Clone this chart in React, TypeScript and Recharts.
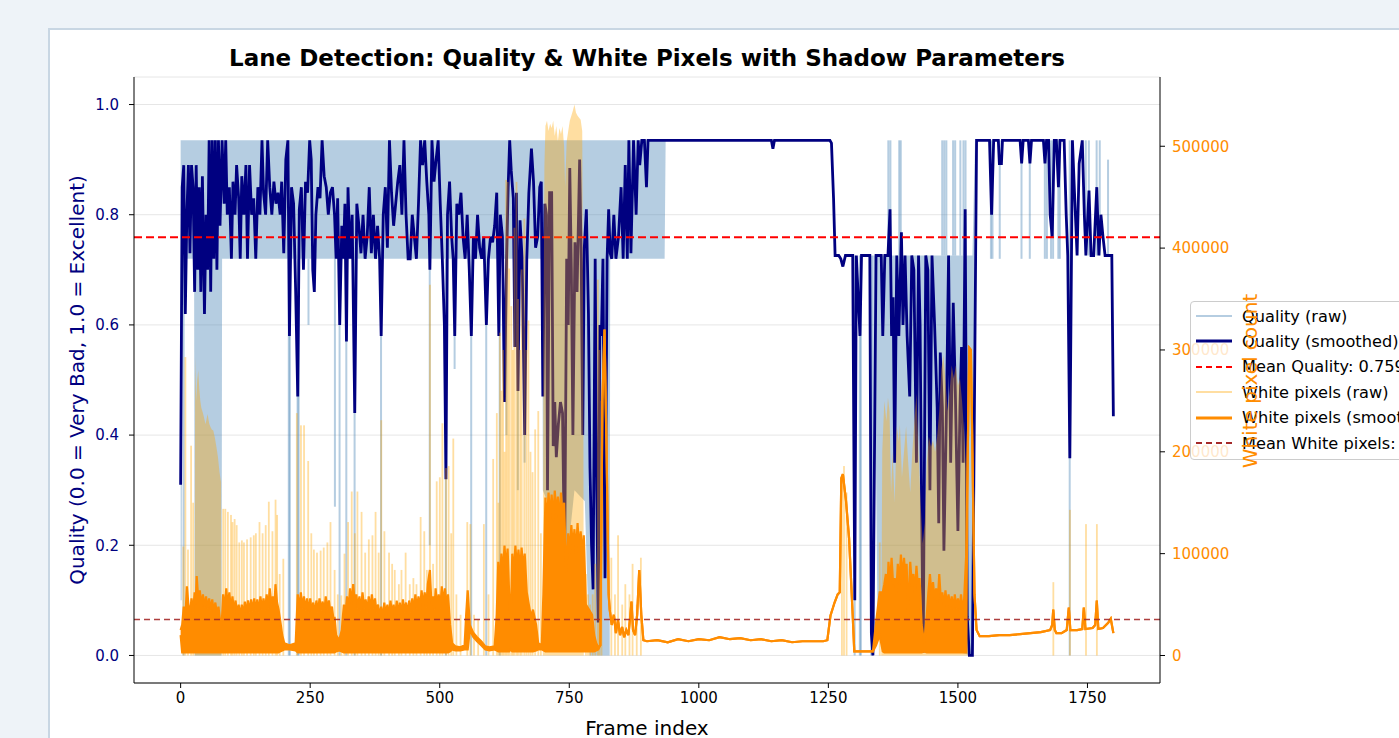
import { ComposedChart, Line, Area, Bar, XAxis, YAxis, CartesianGrid, ReferenceLine } from 'recharts'

// frame index -> smoothed quality score
const qualitySmooth: [number, number][] = [
  [0, 0.31], [3, 0.85], [6, 0.89], [9, 0.62], [12, 0.8], [15, 0.89], [18, 0.73], [21, 0.89], [24, 0.85], [27, 0.66],
  [30, 0.89], [33, 0.7], [36, 0.85], [39, 0.66], [42, 0.87], [46, 0.62], [49, 0.8], [52, 0.7], [55, 0.935], [58, 0.66],
  [61, 0.935], [64, 0.72], [67, 0.935], [70, 0.7], [73, 0.935], [76, 0.78], [80, 0.935], [84, 0.82], [87, 0.935], [90, 0.8],
  [94, 0.85], [98, 0.72], [101, 0.86], [105, 0.8], [108, 0.89], [112, 0.83], [115, 0.72], [118, 0.87], [122, 0.8], [126, 0.89],
  [129, 0.72], [133, 0.89], [137, 0.8], [141, 0.83], [145, 0.72], [149, 0.85], [153, 0.8], [157, 0.935], [160, 0.84], [164, 0.8],
  [168, 0.935], [172, 0.85], [176, 0.8], [180, 0.86], [184, 0.82], [188, 0.84], [192, 0.8], [195, 0.86], [199, 0.73], [203, 0.9],
  [207, 0.935], [210, 0.58], [214, 0.85], [218, 0.82], [222, 0.66], [226, 0.47], [229, 0.81], [233, 0.85], [237, 0.7], [241, 0.86],
  [245, 0.84], [249, 0.935], [252, 0.9], [255, 0.7], [258, 0.66], [261, 0.8], [265, 0.85], [269, 0.83], [273, 0.935], [277, 0.87],
  [281, 0.85], [285, 0.8], [289, 0.84], [293, 0.85], [297, 0.8], [300, 0.72], [303, 0.83], [307, 0.6], [311, 0.78], [314, 0.72],
  [317, 0.82], [320, 0.57], [323, 0.85], [327, 0.72], [331, 0.8], [336, 0.44], [340, 0.82], [344, 0.78], [348, 0.73], [352, 0.8],
  [356, 0.72], [360, 0.76], [364, 0.85], [368, 0.73], [372, 0.8], [376, 0.72], [380, 0.78], [384, 0.72], [387, 0.58], [391, 0.8],
  [395, 0.85], [399, 0.74], [403, 0.935], [407, 0.84], [411, 0.78], [415, 0.82], [419, 0.86], [423, 0.89], [427, 0.8], [431, 0.935],
  [435, 0.8], [439, 0.72], [443, 0.72], [447, 0.8], [451, 0.76], [455, 0.72], [459, 0.82], [463, 0.935], [467, 0.89], [471, 0.935],
  [475, 0.86], [479, 0.8], [481, 0.7], [485, 0.935], [489, 0.86], [493, 0.9], [497, 0.935], [501, 0.82], [505, 0.72], [509, 0.6],
  [512, 0.32], [515, 0.8], [519, 0.86], [523, 0.76], [526, 0.72], [529, 0.58], [533, 0.82], [537, 0.8], [541, 0.84], [545, 0.76],
  [549, 0.72], [553, 0.8], [557, 0.7], [561, 0.58], [565, 0.76], [569, 0.72], [573, 0.8], [577, 0.74], [581, 0.72], [585, 0.76],
  [590, 0.6], [594, 0.72], [598, 0.76], [602, 0.75], [606, 0.78], [610, 0.84], [614, 0.58], [617, 0.8], [621, 0.76], [625, 0.46],
  [629, 0.72], [632, 0.85], [635, 0.935], [638, 0.88], [642, 0.83], [645, 0.56], [648, 0.84], [651, 0.48], [655, 0.79], [659, 0.72],
  [664, 0.4], [668, 0.72], [672, 0.84], [677, 0.92], [681, 0.86], [685, 0.74], [689, 0.76], [693, 0.85], [696, 0.86], [699, 0.47],
  [703, 0.82], [706, 0.8], [708, 0.3], [712, 0.84], [716, 0.84], [719, 0.38], [722, 0.46], [725, 0.36], [729, 0.42], [733, 0.46],
  [737, 0.44], [741, 0.16], [745, 0.72], [748, 0.6], [751, 0.885], [754, 0.7], [757, 0.4], [761, 0.75], [765, 0.66], [770, 0.9],
  [773, 0.72], [776, 0.4], [779, 0.74], [783, 0.81], [787, 0.62], [790, 0.34], [793, 0.2], [796, 0.12], [800, 0.72], [803, 0.3],
  [806, 0.06], [809, 0.6], [812, 0.58], [815, 0.72], [819, 0.14], [823, 0.72], [826, 0.81], [829, 0.73], [832, 0.72], [836, 0.8],
  [840, 0.72], [845, 0.76], [850, 0.85], [854, 0.72], [858, 0.89], [862, 0.72], [865, 0.935], [869, 0.73], [874, 0.935], [879, 0.8],
  [883, 0.935], [886, 0.89], [890, 0.935], [895, 0.935], [899, 0.85], [902, 0.935], [1140, 0.935], [1143, 0.92], [1146, 0.935], [1253, 0.935],
  [1256, 0.93], [1260, 0.83], [1263, 0.726], [1270, 0.726], [1274, 0.72], [1278, 0.706], [1283, 0.726], [1297, 0.726], [1301, 0.1], [1304, 0.726],
  [1311, 0.58], [1314, 0.726], [1330, 0.726], [1333, 0.04], [1336, 0.0], [1342, 0.726], [1352, 0.726], [1355, 0.58], [1359, 0.726], [1365, 0.726],
  [1369, 0.81], [1372, 0.58], [1375, 0.65], [1378, 0.35], [1382, 0.726], [1386, 0.58], [1391, 0.768], [1394, 0.6], [1398, 0.726], [1402, 0.58],
  [1407, 0.47], [1411, 0.726], [1415, 0.7], [1420, 0.35], [1424, 0.726], [1427, 0.6], [1430, 0.27], [1433, 0.005], [1438, 0.726], [1442, 0.7],
  [1446, 0.3], [1450, 0.726], [1455, 0.6], [1460, 0.45], [1463, 0.24], [1466, 0.55], [1470, 0.45], [1473, 0.19], [1478, 0.45], [1482, 0.726],
  [1486, 0.35], [1491, 0.64], [1495, 0.48], [1500, 0.226], [1504, 0.45], [1507, 0.56], [1510, 0.35], [1514, 0.81], [1518, 0.07], [1522, 0.0],
  [1528, 0.0], [1536, 0.935], [1561, 0.935], [1565, 0.8], [1569, 0.935], [1578, 0.935], [1580, 0.893], [1584, 0.893], [1586, 0.935], [1620, 0.935],
  [1623, 0.893], [1626, 0.935], [1636, 0.935], [1639, 0.893], [1642, 0.935], [1665, 0.935], [1668, 0.893], [1671, 0.935], [1675, 0.935], [1678, 0.8],
  [1682, 0.76], [1686, 0.935], [1690, 0.935], [1694, 0.85], [1697, 0.935], [1705, 0.935], [1709, 0.8], [1712, 0.726], [1716, 0.358], [1721, 0.935],
  [1725, 0.84], [1730, 0.726], [1734, 0.893], [1740, 0.935], [1744, 0.8], [1747, 0.726], [1753, 0.844], [1757, 0.726], [1762, 0.726], [1768, 0.85],
  [1772, 0.726], [1776, 0.8], [1780, 0.76], [1784, 0.726], [1797, 0.726], [1800, 0.434],
]

// raw quality: envelope of the per-frame values [frame, low, high]
const qualityRawBand: [number, number, number][] = [
  [0, 0.1, 0.935], [2, 0.1, 0.935], [3, 0.72, 0.935], [26, 0.72, 0.935], [27, 0.0, 0.935], [79, 0.0, 0.935], [80, 0.72, 0.935],
  [698, 0.72, 0.935], [699, 0.3, 0.935], [720, 0.25, 0.935], [740, 0.12, 0.935], [760, 0.3, 0.935], [780, 0.28, 0.935],
  [789, 0.0, 0.935], [828, 0.0, 0.935], [829, 0.72, 0.935], [934, 0.72, 0.935], [936, 0.935, 0.935], [1253, 0.935, 0.935],
  [1262, 0.726, 0.726], [1338, 0.726, 0.726], [1345, 0.05, 0.726], [1525, 0.0, 0.726], [1528, 0.0, 0.726], [1533, 0.935, 0.935],
  [1800, 0.935, 0.935],
]

// single-frame raw quality jumps [frame, from, to]
const qualityRawSpikes: [number, number, number][] = [
  [6, 0.0, 0.72], [209, 0.0, 0.72], [211, 0.0, 0.72], [226, 0.0, 0.72], [228, 0.0, 0.72], [247, 0.6, 0.72], [298, 0.27, 0.72],
  [307, 0.0, 0.72], [320, 0.0, 0.72], [336, 0.0, 0.72], [387, 0.0, 0.72], [481, 0.2, 0.72], [512, 0.0, 0.72], [529, 0.52, 0.72],
  [561, 0.0, 0.72], [590, 0.0, 0.72], [616, 0.0, 0.72], [629, 0.4, 0.72], [651, 0.3, 0.72], [664, 0.35, 0.72],
  [1301, 0.0, 0.726], [1311, 0.0, 0.726], [1313, 0.0, 0.726], [1333, 0.0, 0.726], [1336, 0.0, 0.726],
  [1366, 0.726, 0.935], [1370, 0.726, 0.935], [1387, 0.726, 0.935], [1390, 0.726, 0.935], [1470, 0.726, 0.935], [1474, 0.726, 0.935],
  [1478, 0.726, 0.935], [1491, 0.726, 0.935], [1495, 0.726, 0.935], [1505, 0.726, 0.935], [1511, 0.726, 0.935], [1515, 0.726, 0.935],
  [1564, 0.72, 0.935], [1567, 0.72, 0.935], [1581, 0.72, 0.935], [1623, 0.72, 0.935], [1639, 0.72, 0.935], [1668, 0.72, 0.935],
  [1672, 0.72, 0.935], [1680, 0.72, 0.935], [1684, 0.72, 0.935], [1694, 0.72, 0.935], [1697, 0.72, 0.935], [1716, 0.0, 0.935],
  [1747, 0.726, 0.935], [1753, 0.726, 0.935], [1768, 0.726, 0.935], [1774, 0.726, 0.935], [1790, 0.726, 0.9],
]

// raw white pixels (thousands): dense stretches as envelope [frame, low, high]
const whiteRawBandK: [number, number, number][] = [
  [27, 0, 0], [28, 0, 293], [30, 0, 250], [32, 0, 270], [34, 0, 280], [36, 0, 262], [38, 0, 250], [40, 0, 243], [43, 0, 238],
  [45, 0, 234], [48, 0, 227], [50, 0, 232], [52, 0, 237], [55, 0, 228], [57, 0, 225], [60, 0, 222], [63, 0, 221], [66, 0, 214],
  [69, 0, 205], [72, 0, 195], [75, 0, 180], [78, 0, 170], [79, 0, 0],
  [699, 0, 0], [700, 0, 300], [702, 0, 480], [704, 0, 520], [707, 0, 525], [710, 0, 515], [713, 0, 522], [716, 0, 518],
  [719, 0, 525], [722, 0, 510], [725, 0, 520], [728, 0, 505], [731, 0, 518], [734, 0, 512], [737, 0, 520], [740, 0, 500],
  [742, 0, 460], [745, 0, 505], [748, 0, 515], [751, 0, 525], [754, 0, 530], [757, 0, 535], [760, 0, 541], [763, 0, 533],
  [766, 0, 530], [769, 0, 528], [772, 0, 526], [775, 0, 515], [777, 0, 300], [778, 0, 0],
  [1352, 0, 0], [1354, 0, 200], [1358, 0, 250], [1362, 0, 230], [1365, 0, 253], [1368, 0, 240], [1371, 0, 160], [1374, 0, 200],
  [1378, 0, 150], [1382, 0, 225], [1386, 0, 210], [1388, 0, 227], [1392, 0, 175], [1396, 0, 200], [1400, 0, 225], [1404, 0, 190],
  [1408, 0, 160], [1412, 0, 200], [1416, 0, 230], [1420, 0, 257], [1424, 0, 200], [1428, 0, 150], [1432, 0, 110], [1436, 0, 130],
  [1440, 0, 190], [1444, 0, 215], [1448, 0, 205], [1452, 0, 211], [1456, 0, 200], [1460, 0, 215], [1464, 0, 240], [1468, 0, 281],
  [1472, 0, 295], [1476, 0, 270], [1480, 0, 240], [1484, 0, 260], [1488, 0, 285], [1492, 0, 272], [1496, 0, 285], [1500, 0, 265],
  [1504, 0, 272], [1508, 0, 250], [1512, 0, 220], [1516, 0, 180], [1519, 0, 0],
]

// raw white pixels (thousands): isolated single-frame peaks
const whiteRawSpikesK: [number, number][] = [
  [5, 107], [9, 293], [14, 104], [20, 206], [24, 150], [82, 144], [86, 144], [91, 141], [97, 138], [100, 131], [104, 134],
  [108, 128], [113, 111], [118, 113], [122, 111], [128, 114], [135, 116], [141, 118], [145, 120], [152, 131], [158, 120],
  [164, 128], [170, 151], [177, 122], [183, 153], [186, 138], [191, 80], [198, 95],
  [224, 238], [232, 226], [238, 226], [246, 191], [252, 120], [257, 104], [263, 101], [270, 103], [276, 106], [283, 111],
  [289, 131], [297, 84], [303, 60], [310, 59], [316, 100], [323, 131], [330, 161], [336, 120], [341, 161], [349, 141],
  [356, 101], [363, 114], [370, 118], [376, 141], [382, 101], [387, 231], [393, 122],
  [402, 101], [408, 90], [413, 84], [421, 70], [426, 84], [434, 101], [442, 70], [449, 76], [455, 70], [463, 136], [470, 122],
  [475, 84], [481, 364], [487, 90], [494, 171], [500, 175], [505, 228], [512, 184], [517, 186], [522, 120], [526, 213],
  [532, 60], [540, 40], [553, 131], [559, 129],
  [566, 40], [574, 35], [585, 129], [594, 60], [603, 193], [610, 238], [613, 150], [616, 317], [619, 260], [622, 300],
  [625, 200], [628, 467], [631, 465], [634, 380], [638, 343], [641, 300], [644, 420], [648, 465], [651, 350], [655, 300],
  [658, 379], [663, 429], [667, 300], [671, 329], [675, 200], [679, 180], [684, 222], [690, 240], [695, 120],
  [782, 80], [786, 60], [790, 50], [795, 60], [800, 90], [805, 369], [808, 300], [812, 250], [831, 96], [838, 60], [844, 118],
  [852, 50], [858, 70], [866, 60], [872, 90], [880, 50], [888, 96], [1276, 176], [1280, 186], [1285, 160], [1349, 111],
  [1684, 72], [1716, 143], [1747, 129], [1768, 129],
]

// smoothed white pixels (thousands): [frame, low, high] of the drawn trace
const whiteSmoothK: [number, number, number][] = [
  [0, 20, 25], [3, 3, 30], [6, 3, 48], [9, 3, 35], [12, 3, 68], [15, 3, 50], [18, 3, 40], [21, 3, 56], [24, 3, 42], [27, 3, 62],
  [29, 3, 50], [31, 3, 78], [34, 3, 55], [37, 3, 64], [40, 3, 48], [43, 3, 60], [46, 3, 47], [49, 3, 58], [52, 3, 46], [55, 3, 56],
  [58, 3, 44], [61, 3, 55], [64, 3, 42], [67, 3, 52], [70, 3, 40], [73, 3, 48], [76, 3, 34], [79, 3, 28], [82, 3, 60], [85, 3, 44],
  [88, 3, 66], [91, 3, 48], [94, 3, 62], [97, 3, 45], [100, 3, 58], [103, 3, 42], [106, 3, 54], [109, 3, 40], [112, 3, 50], [115, 3, 38],
  [118, 3, 50], [121, 3, 40], [124, 3, 53], [127, 3, 41], [130, 3, 54], [133, 3, 42], [136, 3, 55], [139, 3, 43], [142, 3, 56], [145, 3, 44],
  [148, 3, 55], [151, 3, 42], [154, 3, 58], [157, 3, 45], [160, 3, 56], [163, 3, 44], [166, 3, 60], [169, 3, 46], [172, 3, 66], [175, 3, 50],
  [178, 3, 58], [181, 3, 48], [183, 3, 70], [186, 3, 52], [189, 3, 45], [192, 4, 35], [196, 5, 20], [200, 6, 12], [210, 6, 10], [222, 5, 12],
  [226, 3, 60], [229, 3, 45], [232, 3, 62], [235, 3, 46], [238, 3, 58], [241, 3, 44], [244, 3, 56], [247, 3, 42], [250, 3, 56], [253, 3, 43],
  [256, 3, 52], [259, 3, 40], [262, 3, 54], [265, 3, 42], [268, 3, 56], [271, 3, 44], [274, 3, 53], [277, 3, 41], [280, 3, 58], [283, 3, 45],
  [286, 3, 54], [289, 3, 42], [292, 3, 48], [295, 3, 35], [297, 3, 38], [300, 4, 20], [306, 5, 15], [311, 4, 25], [315, 3, 50], [318, 3, 40],
  [321, 3, 58], [324, 3, 45], [327, 3, 66], [330, 3, 50], [333, 3, 70], [336, 3, 52], [339, 3, 60], [342, 3, 46], [345, 3, 58], [348, 3, 44],
  [351, 3, 62], [354, 3, 46], [357, 3, 55], [360, 3, 42], [363, 3, 58], [366, 3, 45], [369, 3, 60], [372, 3, 46], [375, 3, 56], [378, 3, 42],
  [381, 3, 50], [384, 3, 38], [387, 3, 48], [390, 3, 36], [393, 3, 52], [396, 3, 40], [399, 3, 50], [402, 3, 38], [405, 3, 54], [408, 3, 40],
  [411, 3, 50], [414, 3, 38], [417, 3, 54], [420, 3, 40], [423, 3, 52], [426, 3, 40], [429, 3, 55], [432, 3, 42], [435, 3, 52], [438, 3, 40],
  [441, 3, 54], [444, 3, 42], [447, 3, 56], [450, 3, 44], [453, 3, 60], [456, 3, 46], [459, 3, 58], [462, 3, 45], [465, 3, 64], [468, 3, 48],
  [471, 3, 62], [474, 3, 47], [477, 3, 70], [481, 3, 84], [484, 3, 50], [487, 3, 58], [490, 3, 45], [492, 3, 66], [495, 3, 48], [498, 3, 60],
  [501, 3, 46], [504, 3, 68], [507, 3, 50], [510, 3, 66], [513, 3, 48], [516, 3, 60], [520, 4, 30], [524, 6, 12], [530, 5, 9], [540, 5, 8],
  [548, 6, 10], [551, 6, 40], [554, 6, 64], [558, 25, 30], [565, 18, 22], [572, 14, 18], [580, 10, 14], [588, 6, 9], [596, 5, 8], [606, 6, 9],
  [610, 5, 40], [613, 4, 92], [616, 4, 70], [619, 4, 100], [622, 4, 80], [625, 4, 108], [628, 4, 85], [631, 4, 105], [634, 4, 60], [637, 6, 30],
  [640, 4, 100], [643, 4, 80], [646, 4, 108], [649, 4, 86], [652, 4, 104], [655, 4, 82], [658, 4, 106], [661, 4, 84], [664, 4, 100], [668, 4, 62],
  [672, 4, 50], [676, 4, 38], [680, 4, 45], [686, 5, 30], [690, 6, 12], [697, 6, 10], [700, 5, 60], [704, 4, 155], [707, 4, 130], [710, 4, 160],
  [713, 4, 135], [716, 4, 158], [719, 4, 132], [722, 4, 162], [725, 4, 138], [728, 4, 156], [731, 4, 130], [734, 4, 160], [737, 4, 136], [740, 4, 150],
  [744, 4, 80], [748, 4, 120], [751, 4, 100], [754, 4, 128], [757, 4, 104], [760, 4, 124], [763, 4, 100], [766, 4, 130], [769, 4, 104], [772, 4, 122],
  [775, 4, 98], [778, 4, 118], [782, 4, 50], [788, 4, 45], [794, 4, 40], [798, 4, 20], [802, 5, 12], [806, 6, 8], [810, 10, 10], [814, 250, 250],
  [818, 320, 320], [822, 200, 200], [826, 60, 60], [828, 45, 45], [832, 30, 30], [836, 40, 40], [840, 22, 22], [844, 35, 35], [848, 20, 20], [852, 28, 28],
  [856, 18, 18], [860, 25, 25], [864, 20, 20], [868, 40, 40], [870, 53, 53], [873, 25, 25], [877, 20, 20], [881, 40, 40], [885, 84, 84], [889, 40, 40],
  [893, 15, 15], [900, 14, 14], [920, 15, 15], [940, 13, 13], [960, 16, 16], [980, 14, 14], [1000, 16, 16], [1020, 15, 15], [1040, 18, 18], [1060, 16, 16],
  [1080, 17, 17], [1100, 15, 15], [1120, 16, 16], [1140, 14, 14], [1160, 15, 15], [1180, 13, 13], [1200, 14, 14], [1220, 14, 14], [1240, 14, 14], [1248, 15, 15],
  [1254, 39, 39], [1262, 52, 52], [1268, 60, 60], [1272, 62, 62], [1275, 174, 174], [1278, 178, 178], [1284, 152, 152], [1290, 115, 115], [1297, 39, 39], [1300, 4, 4],
  [1336, 4, 4], [1342, 10, 32], [1349, 20, 62], [1355, 4, 62], [1358, 3, 70], [1361, 3, 80], [1364, 3, 62], [1366, 3, 92], [1369, 3, 70], [1372, 3, 96],
  [1375, 3, 70], [1378, 3, 76], [1381, 3, 60], [1384, 3, 90], [1387, 3, 70], [1390, 3, 99], [1393, 3, 75], [1396, 3, 96], [1399, 3, 72], [1401, 3, 90],
  [1404, 3, 40], [1408, 3, 92], [1411, 3, 70], [1414, 3, 80], [1417, 3, 62], [1420, 3, 88], [1423, 3, 66], [1426, 3, 76], [1430, 3, 30], [1435, 4, 12],
  [1440, 3, 40], [1443, 3, 62], [1446, 3, 80], [1449, 3, 60], [1452, 3, 72], [1455, 3, 55], [1458, 3, 66], [1461, 3, 52], [1464, 3, 80], [1467, 3, 55],
  [1470, 3, 62], [1473, 3, 48], [1476, 3, 64], [1479, 3, 48], [1482, 3, 60], [1485, 3, 46], [1488, 3, 58], [1491, 3, 45], [1494, 3, 60], [1497, 3, 46],
  [1500, 3, 56], [1503, 3, 44], [1506, 3, 60], [1509, 3, 45], [1512, 3, 55], [1516, 3, 99], [1519, 200, 200], [1522, 302, 302], [1525, 300, 300], [1528, 200, 200],
  [1532, 60, 60], [1536, 25, 25], [1542, 19, 19], [1560, 19, 19], [1580, 20, 20], [1600, 20, 20], [1620, 21, 21], [1640, 22, 22], [1660, 23, 23], [1678, 25, 25],
  [1682, 30, 30], [1684, 45, 45], [1687, 25, 25], [1690, 22, 22], [1700, 22, 22], [1710, 25, 25], [1714, 47, 47], [1717, 25, 25], [1730, 25, 25], [1740, 26, 26],
  [1743, 47, 47], [1746, 26, 26], [1760, 27, 27], [1765, 30, 30], [1768, 54, 54], [1771, 26, 26], [1780, 27, 27], [1790, 32, 32], [1795, 36, 36], [1800, 22, 22],
]

const frameTicks = [0, 250, 500, 750, 1000, 1250, 1500, 1750]
const qualityTicks = [0, 0.2, 0.4, 0.6, 0.8, 1.0]
const whiteTicks = [0, 100000, 200000, 300000, 400000, 500000]
const meanQuality = 0.759
const meanWhite = 35310

const font = 'DejaVu Sans'
const tickFont = 15
const qRawColor = 'steelblue'
const wRawColor = 'orange'

type Row = {
  frame: number
  qs?: number
  qb?: [number, number]
  qk?: [number, number]
  wb?: [number, number]
  wk?: number
  ws?: [number, number]
}

const table = new Map<number, Row>()
const at = (f: number) => {
  let r = table.get(f)
  if (!r) {
    r = { frame: f }
    table.set(f, r)
  }
  return r
}
qualitySmooth.forEach(([f, v]) => { at(f).qs = v })
qualityRawBand.forEach(([f, lo, hi]) => { at(f).qb = [lo, hi] })
qualityRawSpikes.forEach(([f, lo, hi]) => { at(f).qk = [lo, hi] })
whiteRawBandK.forEach(([f, lo, hi]) => { at(f).wb = [lo * 1000, hi * 1000] })
whiteRawSpikesK.forEach(([f, v]) => { at(f).wk = v * 1000 })
whiteSmoothK.forEach(([f, lo, hi]) => { at(f).ws = [lo * 1000, hi * 1000] })
const rows = [...table.values()].sort((a, b) => a.frame - b.frame)

function thinBar(w: number, color: string, opacity: number) {
  return (props: any) => {
    const { x, y, width, height } = props
    if (!height || !Number.isFinite(y) || !Number.isFinite(x)) return <g />
    const top = height < 0 ? y + height : y
    return <rect x={x + width / 2 - w / 2} y={top} width={w} height={Math.abs(height)} fill={color} fillOpacity={opacity} />
  }
}

const legendItems = [
  { label: 'Quality (raw)', color: '#b5cde1', width: 2, dash: undefined },
  { label: 'Quality (smoothed)', color: 'navy', width: 3, dash: undefined },
  { label: `Mean Quality: ${meanQuality}`, color: 'red', width: 2, dash: '6 4' },
  { label: 'White pixels (raw)', color: '#ffdea1', width: 2, dash: undefined },
  { label: 'White pixels (smoothed)', color: 'darkorange', width: 3, dash: undefined },
  { label: `Mean White pixels: ${meanWhite}`, color: 'brown', width: 2, dash: '6 4' },
]

function Legend() {
  return (
    <div
      style={{
        position: 'absolute', left: 1190, top: 301, width: 300, height: 157,
        border: '1px solid #cccccc', borderRadius: 4, background: 'rgba(255,255,255,0.8)',
        fontFamily: font, fontSize: 16.2, color: '#000',
      }}
    >
      {legendItems.map((it, i) => (
        <div key={i} style={{ position: 'absolute', left: 0, top: 2 + i * 25.4, height: 24, display: 'flex', alignItems: 'center' }}>
          <svg width={51} height={24} style={{ flex: 'none' }}>
            <line x1={5} x2={41} y1={12} y2={12} stroke={it.color} strokeWidth={it.width} strokeDasharray={it.dash} />
          </svg>
          <span style={{ whiteSpace: 'nowrap' }}>{it.label}</span>
        </div>
      ))}
    </div>
  )
}

export default function App() {
  return (
    <div style={{ position: 'fixed', left: 0, top: 0, width: 1399, height: 738, background: '#eef3f8', overflow: 'hidden' }}>
      <div style={{ position: 'absolute', left: 48, top: 28, width: 1400, height: 760, background: '#fff', borderTop: '2px solid #c8d6e3', borderLeft: '2px solid #c8d6e3' }} />
      <div style={{ position: 'absolute', left: 0, top: 0 }}>
        <ComposedChart width={1399} height={738} data={rows} margin={{ top: 77, right: 169, bottom: 24, left: 74 }}>
          <CartesianGrid xAxisId="f" yAxisId="q" vertical={false} stroke="#e6e6e6" />
          <XAxis
            xAxisId="f" type="number" dataKey="frame" domain={[-90, 1890]} ticks={frameTicks} allowDataOverflow
            height={31} tickSize={5} tickMargin={4} stroke="#000"
            tick={{ fill: '#000', fontSize: tickFont, fontFamily: font }}
          />
          <XAxis xAxisId="top" orientation="top" type="number" dataKey="frame" domain={[-90, 1890]} allowDataOverflow height={0} tick={false} tickLine={false} stroke="#000" />
          <YAxis
            yAxisId="q" domain={[-0.05, 1.05]} ticks={qualityTicks} allowDataOverflow width={60}
            tickSize={5} tickMargin={10} stroke="#000" tickFormatter={(v: number) => v.toFixed(1)}
            tick={{ fill: 'navy', fontSize: tickFont, fontFamily: font }}
          />
          <YAxis
            yAxisId="w" orientation="right" domain={[-27000, 568000]} ticks={whiteTicks} allowDataOverflow width={70}
            tickSize={5} tickMargin={7} stroke="#000"
            tick={{ fill: 'darkorange', fontSize: tickFont, fontFamily: font }}
          />
          <Area
            xAxisId="f" yAxisId="q" type="linear" dataKey={(d: Row) => d.qb} connectNulls
            stroke="none" fill={qRawColor} fillOpacity={0.4} dot={false} activeDot={false} isAnimationActive={false} zIndex={110}
          />
          <Bar
            xAxisId="f" yAxisId="q" dataKey={(d: Row) => d.qk} barSize={2}
            shape={thinBar(2, qRawColor, 0.4)} isAnimationActive={false} zIndex={111}
          />
          <Line
            xAxisId="f" yAxisId="q" type="linear" dataKey="qs" connectNulls stroke="navy" strokeWidth={2.8}
            dot={false} activeDot={false} isAnimationActive={false} zIndex={120}
          />
          <ReferenceLine xAxisId="f" yAxisId="q" y={meanQuality} stroke="red" strokeWidth={2} strokeDasharray="8 4" zIndex={130} />
          <Area
            xAxisId="f" yAxisId="w" type="linear" dataKey={(d: Row) => d.wb} connectNulls
            stroke="none" fill={wRawColor} fillOpacity={0.37} dot={false} activeDot={false} isAnimationActive={false} zIndex={140}
          />
          <Bar
            xAxisId="f" yAxisId="w" dataKey="wk" barSize={2}
            shape={thinBar(1.8, wRawColor, 0.37)} isAnimationActive={false} zIndex={141}
          />
          <Area
            xAxisId="f" yAxisId="w" type="linear" dataKey={(d: Row) => d.ws} connectNulls
            stroke="darkorange" strokeWidth={2.2} fill="darkorange" fillOpacity={1} dot={false} activeDot={false} isAnimationActive={false} zIndex={150}
          />
          <ReferenceLine xAxisId="f" yAxisId="w" y={meanWhite} stroke="brown" strokeWidth={1.6} strokeDasharray="6 4" strokeOpacity={0.9} zIndex={160} />
        </ComposedChart>
      </div>
      <Legend />
      <svg width={1399} height={738} style={{ position: 'absolute', left: 0, top: 0, pointerEvents: 'none' }}>
        <text x={647} y={58} textAnchor="middle" dominantBaseline="central" fontFamily={font} fontSize={23} fontWeight="bold" fill="#000">
          Lane Detection: Quality &amp; White Pixels with Shadow Parameters
        </text>
        <text x={77} y={380} textAnchor="middle" dominantBaseline="central" transform="rotate(-90 77 380)" fontFamily={font} fontSize={20} fill="navy">
          Quality (0.0 = Very Bad, 1.0 = Excellent)
        </text>
        <text x={647} y={728} textAnchor="middle" dominantBaseline="central" fontFamily={font} fontSize={20} fill="#000">
          Frame index
        </text>
        <text x={1250} y={381} textAnchor="middle" dominantBaseline="central" transform="rotate(-90 1250 381)" fontFamily={font} fontSize={20} fill="darkorange">
          White pixel count
        </text>
      </svg>
    </div>
  )
}
